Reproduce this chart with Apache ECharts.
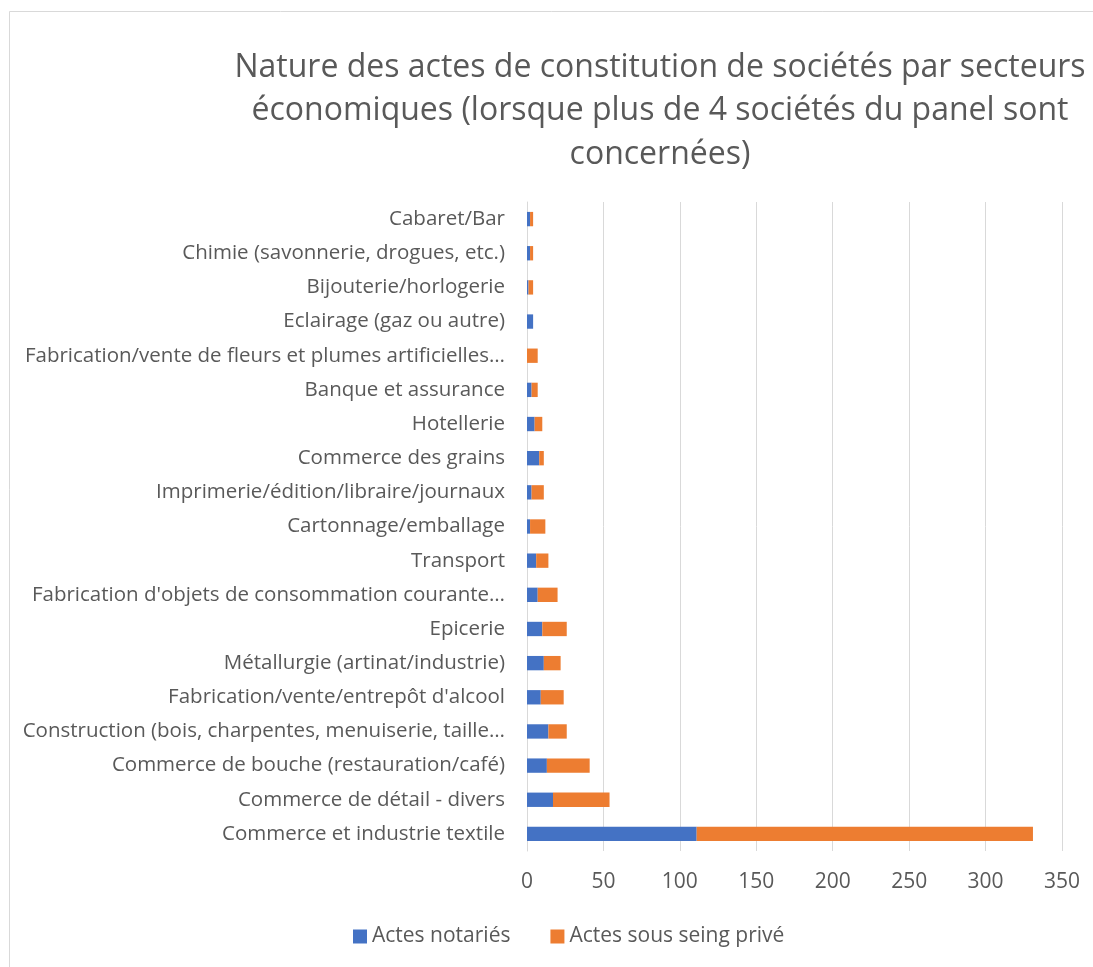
<!DOCTYPE html>
<html>
<head>
<meta charset="utf-8">
<script src="https://cdn.jsdelivr.net/npm/echarts@6/dist/echarts.min.js"></script>
<style>html,body{margin:0;padding:0;background:#fff;}#c{width:1093px;height:967px;}</style>
</head>
<body>
<div id="c"></div>
<script>
const categories = [
  "Cabaret/Bar",
  "Chimie (savonnerie, drogues, etc.)",
  "Bijouterie/horlogerie",
  "Eclairage (gaz ou autre)",
  "Fabrication/vente de fleurs et plumes artificielles…",
  "Banque et assurance",
  "Hotellerie",
  "Commerce des grains",
  "Imprimerie/édition/libraire/journaux",
  "Cartonnage/emballage",
  "Transport",
  "Fabrication d'objets de consommation courante…",
  "Epicerie",
  "Métallurgie (artinat/industrie)",
  "Fabrication/vente/entrepôt d'alcool",
  "Construction (bois, charpentes, menuiserie, taille…",
  "Commerce de bouche (restauration/café)",
  "Commerce de détail - divers",
  "Commerce et industrie textile"
];
const actesNotaries = [2, 2, 1, 4, 0, 3, 5, 8, 3, 2, 6, 7, 10, 11, 9, 14, 13, 17, 111];
const actesSousSeing = [2, 2, 3, 0, 7, 4, 5, 3, 8, 10, 8, 13, 16, 11, 15, 12, 28, 37, 220];
const xTicks = [0, 50, 100, 150, 200, 250, 300, 350];
const seriesNames = ["Actes notariés", "Actes sous seing privé"];
const titleText = "Nature des actes de constitution de sociétés par secteurs\néconomiques (lorsque plus de 4 sociétés du panel sont\nconcernées)";

const FONT = "'Open Sans', sans-serif";
const chart = echarts.init(document.getElementById('c'), null, {renderer: 'canvas'});
chart.setOption({
  backgroundColor: '#ffffff',
  animation: false,
  graphic: [{
    type: 'rect', shape: {x: 9.5, y: 11.5, width: 1200, height: 1200},
    style: {fill: 'none', stroke: '#d9d9d9', lineWidth: 1}, silent: true
  }],
  title: {
    text: titleText,
    left: 655, top: 41, textAlign: 'center',
    textStyle: {fontFamily: FONT, fontSize: 32, fontWeight: 'normal', color: '#595959', lineHeight: 43.5}
  },
  legend: {
    data: seriesNames,
    bottom: 15, left: 348,
    itemWidth: 14, itemHeight: 14, itemGap: 40, icon: 'rect',
    textStyle: {fontFamily: FONT, fontSize: 21, color: '#595959'}
  },
  grid: {left: 527, right: 31, top: 202, bottom: 116, containLabel: false},
  xAxis: {
    type: 'value', min: 0, max: 350, interval: 50,
    data: xTicks,
    axisLine: {show: false}, axisTick: {show: false},
    splitLine: {show: true, lineStyle: {color: '#d9d9d9', width: 1}},
    axisLabel: {fontFamily: FONT, fontSize: 21, color: '#595959', margin: 21}
  },
  yAxis: {
    type: 'category', data: categories, inverse: true,
    axisLine: {show: true, lineStyle: {color: '#d9d9d9', width: 1}},
    axisTick: {show: false},
    axisLabel: {fontFamily: FONT, fontSize: 20.5, color: '#595959', margin: 22}
  },
  series: [
    {name: seriesNames[0], type: 'bar', stack: 'total', data: actesNotaries, barWidth: '42%', itemStyle: {color: '#4472c4'}},
    {name: seriesNames[1], type: 'bar', stack: 'total', data: actesSousSeing, barWidth: '42%', itemStyle: {color: '#ed7d31'}}
  ]
});
</script>
</body>
</html>
